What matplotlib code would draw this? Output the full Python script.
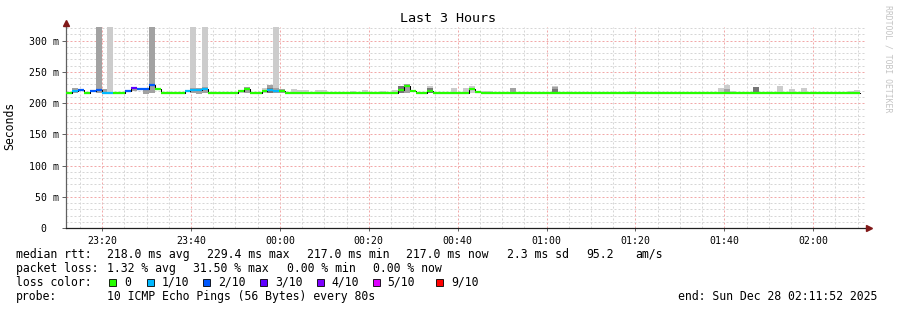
import datetime as dt
import matplotlib
matplotlib.use("Agg")
import matplotlib.pyplot as plt
import matplotlib.dates as mdates
from matplotlib.ticker import MultipleLocator, FuncFormatter
from matplotlib.patches import Rectangle

plt.rcParams['font.family'] = 'DejaVu Sans Mono'

# --- data: 80 s steps, starting 3 hours before the end time ---
start = dt.datetime(2025, 12, 27, 23, 11, 52)
end = dt.datetime(2025, 12, 28, 2, 11, 52)
step_s = 80

# median rtt per step (ms)
median_ms = [
    217, 219.5, 221, 217, 219.5, 221.5, 217, 217, 217, 217,
    220, 224, 222, 223, 229, 222, 217, 217, 217, 217,
    219.5, 221, 221, 222, 217, 217, 217, 217, 217, 219.5,
    223, 217, 217, 219.5, 221, 220, 219.5, 217, 217, 217,
    217, 217, 217, 217, 217, 217, 217, 217, 217, 217,
    217, 217, 217, 217, 217, 217, 221, 228, 219.5, 217,
    217, 219, 217, 217, 217, 217, 217, 217, 222, 218.5,
    217, 217, 217, 217, 217, 217, 217, 217, 217, 217,
    217, 217, 217, 217, 217, 217, 217, 217, 217, 217,
    217, 217, 217, 217, 217, 217, 217, 217, 217, 217,
    217, 217, 217, 217, 217, 217, 217, 217, 217, 217,
    217, 217, 217, 217, 217, 217, 217, 217, 217, 217,
    217, 217, 217, 217, 217, 217, 217, 217, 217, 217,
    217, 217, 217, 217,
]

# lost pings (out of 10) per step
loss = [
    0, 1, 2, 0, 2, 2, 1, 1, 0, 0,
    2, 3, 2, 2, 2, 0, 0, 0, 0, 0,
    1, 1, 1, 1, 0, 0, 0, 0, 0, 0,
    0, 0, 0, 0, 1, 1, 0, 0, 0, 0,
] + [0] * 94

# smoke bands (step index, low, high, shade 0=light 1=mid 2=dark)
smoke_step = [1, 5, 6, 7, 11, 13, 14, 21, 21, 22, 23, 23, 29, 30, 33, 34, 34,
              35, 35, 36, 38, 39, 40, 42, 43, 48, 50, 53, 55, 56, 57, 61, 61,
              65, 67, 68, 70, 71, 75, 82, 82, 82, 95, 110, 111, 111, 112, 116,
              120, 122, 124, 132, 133]
smoke_lo = [217, 217, 216, 217, 219, 215, 217, 217, 217, 215, 217, 217, 217,
            217, 217, 217, 217, 217, 217, 217, 217, 217, 217, 217, 217, 217,
            217, 217, 217, 217, 216, 217, 217, 217, 217, 217, 217, 217, 217,
            217, 217, 217, 217, 217, 217, 217, 217, 217, 217, 217, 217, 217,
            217]
smoke_hi = [224.5, 400, 222, 400, 226, 223, 400, 400, 224, 225, 400, 226,
            221, 226, 224, 229, 224, 400, 224, 223, 222, 221.5, 221.5, 221.5,
            221.5, 220, 221.5, 220, 221.5, 228, 230, 228, 224, 223.5, 224,
            227.5, 219, 219, 224, 228, 225.5, 223, 219.5, 225, 229.5, 223,
            219, 225.5, 228, 222, 223.5, 219, 220.5]
smoke_shade = [1, 1, 1, 0, 1, 1, 1, 0, 1, 1, 0, 1, 0, 1, 0, 1, 2, 0, 1, 1, 0,
               0, 0, 0, 0, 0, 0, 0, 0, 2, 1, 0, 2, 0, 0, 0, 0, 0, 1, 0, 1, 2,
               0, 0, 0, 1, 0, 2, 0, 0, 0, 0, 0]

loss_colors = {0: '#26ff00', 1: '#00b8ff', 2: '#0059ff', 3: '#5e00ff',
               4: '#7e00ff', 5: '#dd00ff', 9: '#ff0000'}
loss_labels = ['0', '1/10', '2/10', '3/10', '4/10', '5/10', '9/10']
shade_colors = ['#cccccc', '#a2a2a2', '#767676']

W, H = 897, 310
fig = plt.figure(figsize=(W / 100, H / 100), dpi=100)
fig.patch.set_facecolor('white')
# plot area in pixels: x 66..866, y 27..228
ax = fig.add_axes([66 / W, (H - 228) / H, 800 / W, 201 / H])
ax.set_facecolor('white')

step_days = step_s / 86400.0
t0 = mdates.date2num(start)
t_step = [t0 + i * step_days for i in range(len(median_ms))]

# smoke, light shades first
order = sorted(range(len(smoke_step)), key=lambda k: smoke_shade[k])
for k in order:
    i = smoke_step[k]
    ax.bar(t_step[i], smoke_hi[k] - smoke_lo[k], bottom=smoke_lo[k],
           width=step_days, align='edge', color=shade_colors[smoke_shade[k]],
           linewidth=0, zorder=2)

# median: thin black step line, then thick loss-coloured segments
edges = t_step + [t_step[-1] + step_days]
ax.step(edges, median_ms + [median_ms[-1]], where='post', color='black',
        lw=0.75, zorder=3)
for i, m in enumerate(median_ms):
    ax.hlines(m, t_step[i], t_step[i] + step_days,
              colors=loss_colors[loss[i]], lw=1.6, zorder=4)

ax.set_xlim(mdates.date2num(start), mdates.date2num(end))
ax.set_ylim(0, 322)

# grid
ax.yaxis.set_major_locator(MultipleLocator(50))
ax.yaxis.set_minor_locator(MultipleLocator(10))
ax.xaxis.set_major_locator(mdates.MinuteLocator(byminute=[0, 20, 40]))
ax.xaxis.set_minor_locator(mdates.MinuteLocator(byminute=range(0, 60, 5)))
ax.xaxis.set_major_formatter(mdates.DateFormatter('%H:%M'))
ax.yaxis.set_major_formatter(FuncFormatter(
    lambda v, p: '0  ' if v == 0 else '%d m' % v))
ax.set_axisbelow(True)
ax.grid(which='minor', color='#d6d6d6', lw=0.72, ls=(0, (2, 2)))
ax.grid(which='major', color='#f2a8a8', lw=0.72, ls=(0, (2, 2)))

for s in ['top', 'right']:
    ax.spines[s].set_visible(False)
ax.spines['left'].set_color('#606060')
ax.spines['bottom'].set_color('#202020')
ax.spines['left'].set_linewidth(0.9)
ax.spines['bottom'].set_linewidth(0.9)
ax.tick_params(axis='y', which='major', length=3, width=0.7, color='#606060',
               pad=2, labelsize=7.1)
ax.tick_params(axis='y', which='minor', length=0)
ax.tick_params(axis='x', which='major', length=2, width=0.7, color='#606060',
               pad=4, labelsize=7.1)
ax.tick_params(axis='x', which='minor', length=0)

# axis extensions and arrows
top_ext = 1 + 4 / 201
right_ext = 1 + 3 / 800
ax.plot([0, 0], [1, top_ext], color='#606060', lw=0.9,
        transform=ax.transAxes, clip_on=False, zorder=5)
ax.plot([1, right_ext], [0, 0], color='#202020', lw=0.9,
        transform=ax.transAxes, clip_on=False, zorder=5)
ax.plot([0], [top_ext], marker='^', markersize=4.5, color='#801818',
        transform=ax.transAxes, clip_on=False, zorder=6)
ax.plot([right_ext], [0], marker='>', markersize=4.5, color='#801818',
        transform=ax.transAxes, clip_on=False, zorder=6)

# texts
def fx(x):
    return x / W

def fy(y):
    return 1 - y / H

fig.text(fx(448), fy(19), 'Last 3 Hours', ha='center', va='center',
         fontsize=9.6)
fig.text(fx(10), fy(126), 'Seconds', rotation=90, ha='center', va='center',
         fontsize=8.3)
fig.text(fx(888), fy(59), 'RRDTOOL / TOBI OETIKER', rotation=270,
         ha='center', va='center', fontsize=5.9, color='#c4c4c4')

fs = 8.3
rows = [
    (254.3, [(16, 'median rtt:'), (107.3, '218.0 ms avg'), (207.3, '229.4 ms max'),
             (306.7, '217.0 ms min'), (406, '217.0 ms now'), (507.3, '2.3 ms sd'),
             (586, '95.2'), (635, 'am/s')]),
    (268.3, [(16, 'packet loss:'), (107.3, '1.32 % avg'), (193.3, '31.50 % max'),
             (286.7, '0.00 % min'), (372.7, '0.00 % now')]),
    (296.7, [(16, 'probe:'), (107.3, '10 ICMP Echo Pings (56 Bytes) every 80s'),
             (678.3, 'end: Sun Dec 28 02:11:52 2025')]),
]
for y, items in rows:
    for x, s in items:
        fig.text(fx(x), fy(y), s, ha='left', va='center', fontsize=fs)

fig.text(fx(16), fy(282.3), 'loss color:', ha='left', va='center', fontsize=fs)
box_x = [109, 146.7, 203.3, 260, 316.7, 372.7, 436]
for bx, key, lab in zip(box_x, [0, 1, 2, 3, 4, 5, 9], loss_labels):
    fig.patches.append(Rectangle((fx(bx), fy(286)), 7 / W, 7 / H,
                                 transform=fig.transFigure,
                                 facecolor=loss_colors[key], edgecolor='black',
                                 lw=0.6))
    fig.text(fx(bx + 15), fy(282.3), lab, ha='left', va='center', fontsize=fs)

fig.savefig('out.png', dpi=100)
